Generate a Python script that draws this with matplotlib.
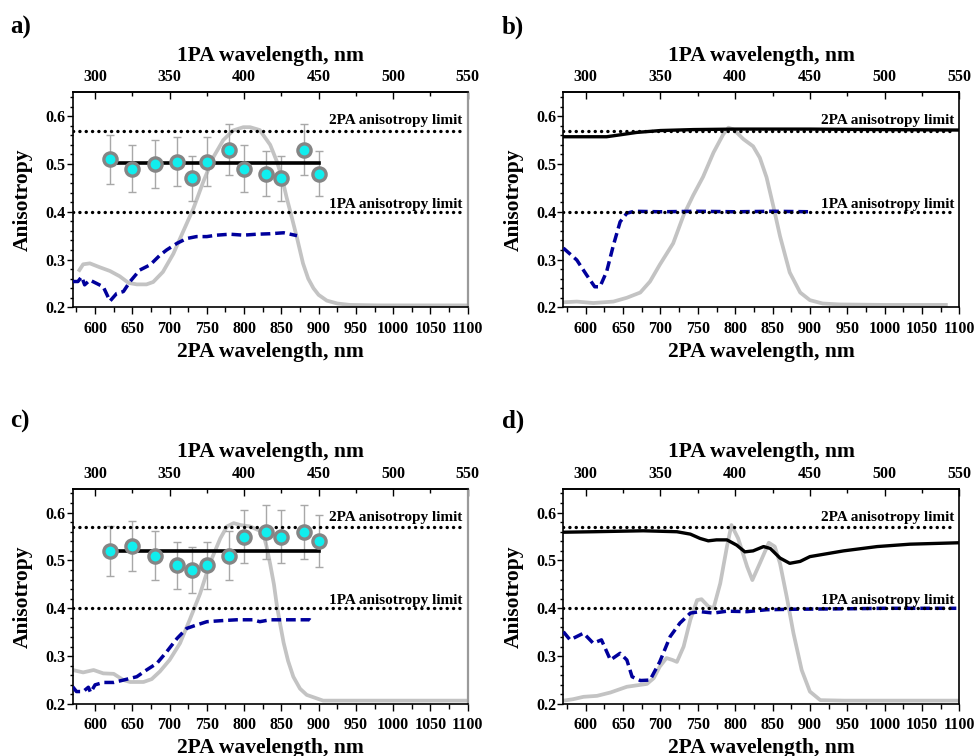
import matplotlib
matplotlib.use("Agg")
import matplotlib.pyplot as plt
from matplotlib.ticker import MultipleLocator
import numpy as np

plt.rcParams['font.family'] = ['Liberation Serif', 'DejaVu Serif']
plt.rcParams['font.weight'] = 'bold'

# limits of anisotropy
lim_2pa = 0.57
lim_1pa = 0.40
lim_x = [570, 1094]

# measured 2PA anisotropy points (panels a and c)
pts_x = [620, 650, 680, 710, 730, 750, 780, 800, 830, 850, 880, 900]
a_pts = [0.51, 0.49, 0.50, 0.505, 0.47, 0.505, 0.53, 0.49, 0.48, 0.47, 0.53, 0.48]
a_err = [0.051, 0.049, 0.050, 0.051, 0.047, 0.051, 0.053, 0.049, 0.048, 0.047, 0.053, 0.048]
a_mean = 0.503
c_pts = [0.52, 0.53, 0.51, 0.49, 0.48, 0.49, 0.51, 0.55, 0.56, 0.55, 0.56, 0.54]
c_err = [0.052, 0.053, 0.051, 0.049, 0.048, 0.049, 0.051, 0.055, 0.056, 0.055, 0.056, 0.054]
c_mean = 0.52

# panel a curves
a_gray_x = [579, 584, 593, 606, 620, 633, 645, 656, 669, 678, 691, 705, 718, 732, 745, 759, 772, 785,
            799, 808, 821, 835, 844, 851, 857, 864, 871, 879, 886, 893, 900, 911, 925, 942, 980, 1100]
a_gray_y = [0.278, 0.290, 0.292, 0.284, 0.276, 0.265, 0.251, 0.248, 0.248, 0.253, 0.274, 0.312, 0.358,
            0.407, 0.462, 0.515, 0.550, 0.570, 0.577, 0.577, 0.571, 0.540, 0.505, 0.470, 0.430, 0.388,
            0.345, 0.292, 0.260, 0.240, 0.226, 0.214, 0.208, 0.205, 0.204, 0.204]
a_blue_x = [570, 577, 582, 586, 593, 602, 611, 620, 629, 638, 647, 660, 674, 687, 696, 710, 723, 736,
            750, 763, 781, 799, 817, 835, 853, 871]
a_blue_y = [0.254, 0.254, 0.264, 0.247, 0.257, 0.250, 0.243, 0.213, 0.229, 0.233, 0.254, 0.278, 0.289,
            0.309, 0.320, 0.334, 0.344, 0.348, 0.348, 0.351, 0.353, 0.351, 0.353, 0.354, 0.356, 0.350]

# panel b curves
b_black_x = [570, 628, 646, 668, 700, 744, 800, 900, 1000, 1100]
b_black_y = [0.557, 0.557, 0.561, 0.566, 0.570, 0.572, 0.573, 0.573, 0.572, 0.571]
b_gray_x = [570, 588, 610, 637, 655, 673, 686, 699, 717, 731, 744, 757, 771, 784, 791, 798, 811, 824,
            833, 842, 851, 860, 873, 887, 900, 917, 940, 1000, 1082]
b_gray_y = [0.2105, 0.212, 0.209, 0.212, 0.220, 0.231, 0.254, 0.289, 0.334, 0.393, 0.435, 0.473, 0.524,
            0.562, 0.576, 0.572, 0.552, 0.537, 0.513, 0.472, 0.412, 0.349, 0.273, 0.231, 0.215, 0.208,
            0.206, 0.205, 0.205]
b_blue_x = [570, 588, 601, 612, 619, 628, 637, 646, 655, 665, 700, 750, 800, 850, 900]
b_blue_y = [0.324, 0.299, 0.268, 0.243, 0.243, 0.275, 0.330, 0.379, 0.397, 0.401, 0.400, 0.401, 0.400,
            0.401, 0.400]

# panel c curves
c_gray_x = [570, 584, 598, 611, 625, 638, 647, 665, 676, 687, 700, 714, 727, 741, 754, 768, 777, 786,
            795, 808, 821, 826, 830, 835, 840, 844, 848, 853, 859, 866, 875, 884, 906, 1100]
c_gray_y = [0.271, 0.266, 0.271, 0.264, 0.263, 0.250, 0.246, 0.246, 0.252, 0.268, 0.292, 0.327, 0.376,
            0.431, 0.494, 0.546, 0.571, 0.578, 0.574, 0.571, 0.562, 0.553, 0.530, 0.492, 0.450, 0.405,
            0.370, 0.328, 0.290, 0.257, 0.232, 0.219, 0.207, 0.207]
c_blue_x = [570, 575, 584, 591, 594, 600, 611, 625, 638, 656, 669, 683, 696, 710, 723, 736, 750, 768,
            790, 812, 821, 835, 857, 888, 893]
c_blue_y = [0.236, 0.226, 0.226, 0.235, 0.224, 0.240, 0.245, 0.245, 0.250, 0.257, 0.271, 0.285, 0.309,
            0.337, 0.358, 0.365, 0.372, 0.374, 0.376, 0.376, 0.372, 0.376, 0.376, 0.376, 0.369]

# panel d curves
d_black_x = [570, 610, 677, 722, 740, 753, 764, 775, 789, 802, 813, 824, 838, 847, 860, 873, 887, 900,
             945, 990, 1034, 1100]
d_black_y = [0.559, 0.560, 0.562, 0.560, 0.555, 0.546, 0.541, 0.543, 0.543, 0.532, 0.518, 0.520, 0.529,
             0.525, 0.505, 0.494, 0.498, 0.508, 0.520, 0.529, 0.534, 0.537]
d_gray_x = [570, 583, 597, 615, 633, 655, 673, 682, 691, 699, 708, 716, 722, 731, 740, 749, 755, 764,
            771, 780, 789, 795, 804, 816, 823, 833, 845, 853, 860, 869, 878, 889, 900, 914, 946, 1100]
d_gray_y = [0.207, 0.210, 0.215, 0.217, 0.224, 0.236, 0.240, 0.242, 0.254, 0.278, 0.296, 0.292, 0.288,
            0.320, 0.376, 0.417, 0.419, 0.404, 0.400, 0.452, 0.529, 0.574, 0.546, 0.487, 0.459, 0.494,
            0.537, 0.529, 0.494, 0.424, 0.348, 0.271, 0.226, 0.208, 0.207, 0.207]
d_blue_x = [570, 579, 597, 610, 621, 633, 646, 655, 662, 673, 686, 699, 713, 726, 740, 753, 771, 789,
            816, 842, 878, 950, 1000, 1050, 1096]
d_blue_y = [0.351, 0.334, 0.348, 0.327, 0.334, 0.292, 0.306, 0.292, 0.257, 0.249, 0.250, 0.288, 0.341,
            0.369, 0.390, 0.393, 0.390, 0.394, 0.393, 0.397, 0.398, 0.399, 0.400, 0.400, 0.400]

GRAY = '#c3c3c3'
BLUE = '#00009c'
CYAN = '#11eeee'

fig = plt.figure(figsize=(9.76, 7.56), dpi=100)

rects = {'a': [0.0745, 0.5935, 0.4047, 0.2844],
         'b': [0.5772, 0.5935, 0.4057, 0.2844],
         'c': [0.0745, 0.0688, 0.4047, 0.2848],
         'd': [0.5772, 0.0688, 0.4057, 0.2848]}


def setup(ax, gray_right):
    ax.set_xlim(570, 1100)
    ax.set_ylim(0.2, 0.65)
    ax.xaxis.set_major_locator(MultipleLocator(50))
    ax.xaxis.set_minor_locator(MultipleLocator(25))
    ax.yaxis.set_major_locator(MultipleLocator(0.1))
    ax.yaxis.set_minor_locator(MultipleLocator(0.02))
    ax.set_yticks([0.2, 0.3, 0.4, 0.5, 0.6])
    ax.set_yticklabels(['0.2', '0.3', '0.4', '0.5', '0.6'])
    ax.tick_params(axis='x', which='major', direction='out', length=5, width=1, pad=4.5, labelsize=11.5)
    ax.tick_params(axis='x', which='minor', direction='out', length=3.5, width=1)
    ax.tick_params(axis='y', which='major', direction='out', length=4.5, width=1, pad=0.5, labelsize=11.5)
    ax.tick_params(axis='y', which='minor', direction='out', length=2.5, width=1)
    for s in ax.spines.values():
        s.set_linewidth(1.2)
    if gray_right:
        ax.spines['right'].set_color('#9a9a9a')
        ax.spines['right'].set_linewidth(1.6)
    ax.set_xlabel('2PA wavelength, nm', fontsize=15.5, fontweight='bold')
    ax.xaxis.set_label_coords(0.5, -0.16)
    ax.set_ylabel('Anisotropy', fontsize=15.5, fontweight='bold')
    ax.yaxis.set_label_coords(-0.1, 0.5)

    sec = ax.secondary_xaxis('top', functions=(lambda x: x / 2, lambda x: x * 2))
    sec.xaxis.set_major_locator(MultipleLocator(50))
    sec.xaxis.set_minor_locator(MultipleLocator(25))
    sec.tick_params(axis='x', which='major', direction='in', length=5, width=1, pad=5.0, labelsize=11.5)
    sec.tick_params(axis='x', which='minor', direction='in', length=3, width=1)
    sec.spines['top'].set_linewidth(1.2)
    sec.set_xlabel('1PA wavelength, nm', fontsize=15.5, fontweight='bold')
    sec.xaxis.set_label_coords(0.5, 1.145, transform=ax.transAxes)

    # anisotropy limits
    for v in (lim_2pa, lim_1pa):
        ax.plot(lim_x, [v, v], color='black', lw=2.4, linestyle=(0, (0.05, 1.85)),
                dash_capstyle='round', zorder=4)
    ax.text(1093, lim_2pa + 0.013, '2PA anisotropy limit', ha='right', va='baseline',
            fontsize=11, fontweight='bold', zorder=5)
    ax.text(1093, lim_1pa + 0.008, '1PA anisotropy limit', ha='right', va='baseline',
            fontsize=11, fontweight='bold', zorder=5)


def points(ax, y, err, mean):
    ax.errorbar(pts_x, y, yerr=err, fmt='none', ecolor='#a8a8a8', elinewidth=1.0,
                capsize=3, capthick=1.0, zorder=3)
    ax.plot([pts_x[0], pts_x[-1]], [mean, mean], color='black', lw=2.6, zorder=5)
    ax.plot(pts_x, y, 'o', ms=9.5, mfc=CYAN, mec='#858585', mew=2.4, ls='none', zorder=6)


ax_a = fig.add_axes(rects['a'])
setup(ax_a, True)
ax_a.plot(a_gray_x, a_gray_y, color=GRAY, lw=2.7, zorder=2)
ax_a.plot(a_blue_x, a_blue_y, color=BLUE, lw=2.5, linestyle=(0, (2.8, 1.4)), zorder=3)
points(ax_a, a_pts, a_err, a_mean)

ax_b = fig.add_axes(rects['b'])
setup(ax_b, False)
ax_b.plot(b_gray_x, b_gray_y, color=GRAY, lw=2.7, zorder=2)
ax_b.plot(b_blue_x, b_blue_y, color=BLUE, lw=2.5, linestyle=(0, (2.8, 1.4)), zorder=3)
ax_b.plot(b_black_x, b_black_y, color='black', lw=2.4, zorder=3)

ax_c = fig.add_axes(rects['c'])
setup(ax_c, True)
ax_c.plot(c_gray_x, c_gray_y, color=GRAY, lw=2.7, zorder=2)
ax_c.plot(c_blue_x, c_blue_y, color=BLUE, lw=2.5, linestyle=(0, (2.8, 1.4)), zorder=3)
points(ax_c, c_pts, c_err, c_mean)

ax_d = fig.add_axes(rects['d'])
setup(ax_d, False)
ax_d.plot(d_gray_x, d_gray_y, color=GRAY, lw=2.7, zorder=2)
ax_d.plot(d_blue_x, d_blue_y, color=BLUE, lw=2.5, linestyle=(0, (2.8, 1.4)), zorder=3)
ax_d.plot(d_black_x, d_black_y, color='black', lw=2.4, zorder=3)

# panel letters
for tag, x, y in [('a)', 10, 27), ('b)', 502, 27), ('c)', 10, 421), ('d)', 502, 421)]:
    fig.text(x / 976, 1 - y / 756, tag, ha='left', va='center', fontsize=18, fontweight='bold')

fig.savefig('out.png', dpi=100)
